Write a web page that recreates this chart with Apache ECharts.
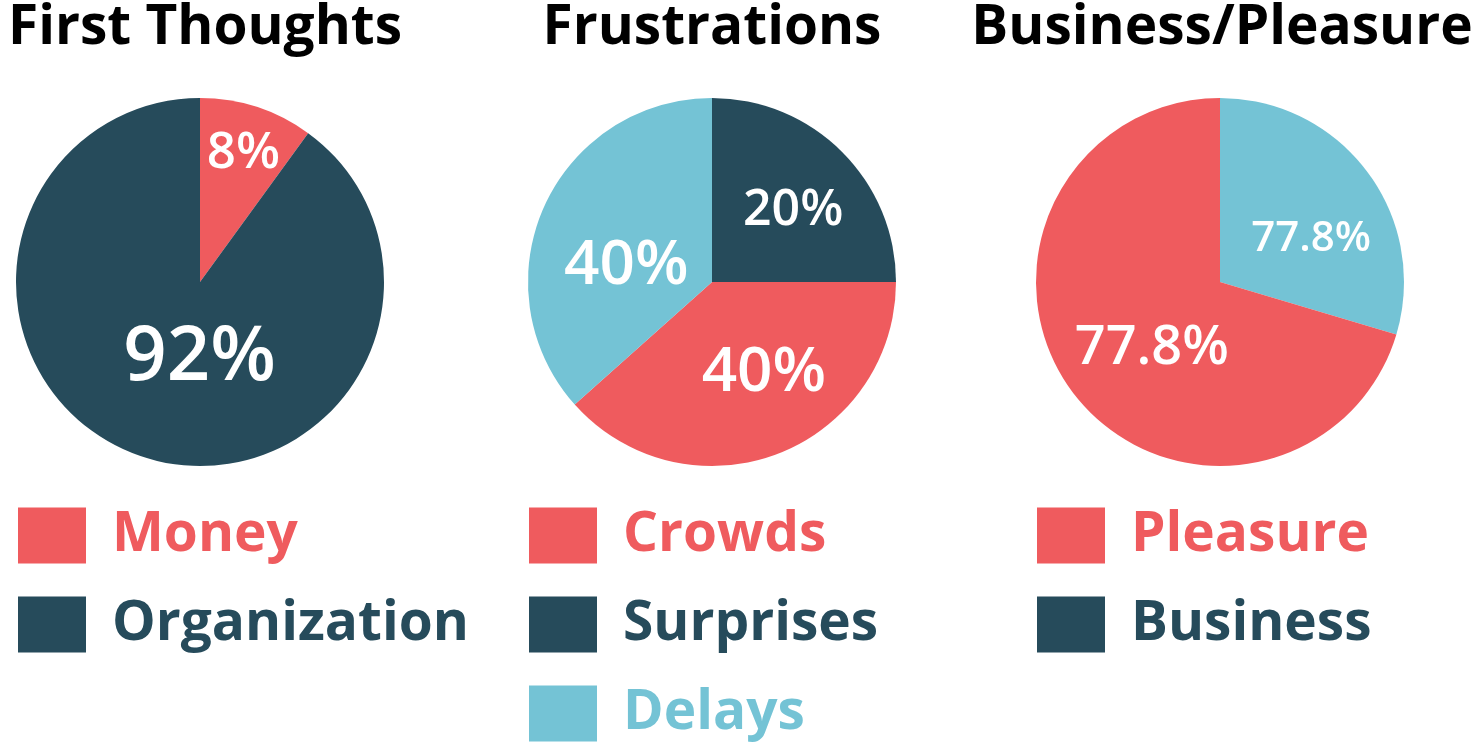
<!DOCTYPE html>
<html>
<head>
<meta charset="utf-8">
<script src="https://cdn.jsdelivr.net/npm/echarts@6/dist/echarts.min.js"></script>
<style>
  html, body { margin: 0; padding: 0; background: #fff; }
  #main { width: 1477px; height: 749px; }
</style>
</head>
<body>
<div id="main"></div>
<script>
// slice sizes as drawn, label texts as printed on the slices
const firstNames = ['Money', 'Organization'];
const firstValues = [10, 90];
const firstLabels = ['8%', '92%'];

const frustNames = ['Surprises', 'Crowds', 'Delays'];
const frustValues = [25, 38.4, 36.6];
const frustLabels = ['20%', '40%', '40%'];

const bizNames = ['Business', 'Pleasure'];
const bizValues = [29.6, 70.4];
const bizLabels = ['77.8%', '77.8%'];

const titles = ['First Thoughts', 'Frustrations', 'Business/Pleasure'];

const RED = '#EF5B5E';
const DARK = '#264B5B';
const BLUE = '#74C3D5';
const FONT = 'Open Sans';

const chart = echarts.init(document.getElementById('main'), null, { renderer: 'canvas' });

// per slice: colour, label size, nudge from the default inside spot
const sliceStyle = [
  [{ c: RED, fs: 51, dx: 14, dy: -38 }, { c: DARK, fs: 76, dx: 29, dy: -14 }],
  [{ c: DARK, fs: 50, dx: 14, dy: -4 }, { c: RED, fs: 62, dx: 18, dy: 3 }, { c: BLUE, fs: 62, dx: 1, dy: 23 }],
  [{ c: BLUE, fs: 42, dx: 15, dy: 14 }, { c: RED, fs: 54, dx: 8, dy: 10 }]
];
const centersX = [200, 712, 1220];

function makePie(idx, names, values, labels) {
  return {
    type: 'pie',
    center: [centersX[idx], 282],
    radius: 184,
    startAngle: 90,
    clockwise: true,
    silent: true,
    animation: false,
    avoidLabelOverlap: false,
    labelLine: { show: false },
    label: {
      show: true,
      position: 'inside',
      color: '#fff',
      fontFamily: FONT,
      fontWeight: 600,
      formatter: p => labels[p.dataIndex]
    },
    labelLayout: p => ({ dx: sliceStyle[idx][p.dataIndex].dx, dy: sliceStyle[idx][p.dataIndex].dy }),
    data: names.map((n, i) => ({
      name: n,
      value: values[i],
      itemStyle: { color: sliceStyle[idx][i].c },
      label: { fontSize: sliceStyle[idx][i].fs }
    }))
  };
}

function legendItem(name, color) {
  return { name: name, icon: 'rect', itemStyle: { color: color }, textStyle: { color: color } };
}

function makeLegend(left, items) {
  return {
    orient: 'vertical',
    left: left,
    top: 505,
    padding: 0,
    itemWidth: 68,
    itemHeight: 56,
    itemGap: 28,
    selectedMode: false,
    textStyle: {
      fontFamily: FONT,
      fontWeight: 'bold',
      fontSize: 55,
      lineHeight: 56,
      padding: [5, 0, 0, 21]
    },
    data: items
  };
}

const option = {
  backgroundColor: '#fff',
  animation: false,
  title: titles.map((t, i) => ({
    text: t,
    left: [205, 712, 1222][i],
    top: 1,
    padding: 0,
    textAlign: 'center',
    textStyle: { fontFamily: FONT, fontWeight: 'bold', fontSize: 55, color: '#000' }
  })),
  legend: [
    makeLegend(18, [legendItem('Money', RED), legendItem('Organization', DARK)]),
    makeLegend(529, [legendItem('Crowds', RED), legendItem('Surprises', DARK), legendItem('Delays', BLUE)]),
    makeLegend(1037, [legendItem('Pleasure', RED), legendItem('Business', DARK)])
  ],
  series: [
    makePie(0, firstNames, firstValues, firstLabels),
    makePie(1, frustNames, frustValues, frustLabels),
    makePie(2, bizNames, bizValues, bizLabels)
  ]
};

chart.setOption(option);
</script>
</body>
</html>
